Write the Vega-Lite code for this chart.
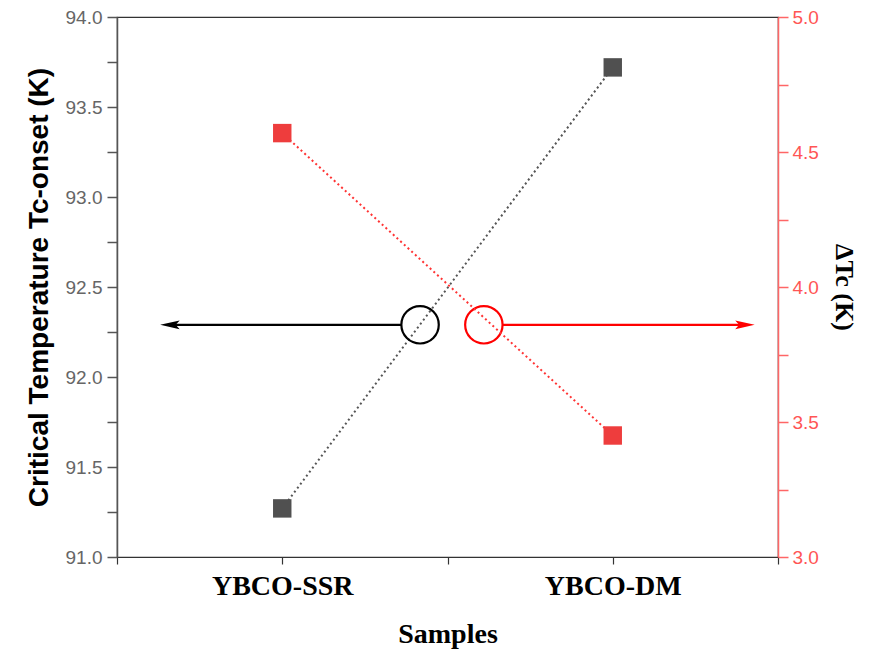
{
  "$schema": "https://vega.github.io/schema/vega-lite/v6.json",
  "width": 661,
  "height": 540,
  "autosize": {"type": "none"},
  "padding": {"left": 117, "top": 17, "right": 91, "bottom": 102},
  "background": "white",
  "config": {"view": {"stroke": "#333", "strokeWidth": 1.2}},
  "datasets": {
    "samples": [
      {"pos": 1, "sample": "YBCO-SSR", "tc": 91.27, "dtc": 4.57},
      {"pos": 2, "sample": "YBCO-DM", "tc": 93.72, "dtc": 3.45}
    ],
    "marker": [
      {"series": "Tc-onset", "cx": 1.417, "cy": 92.29, "x1": 1.36, "x2": 0.66, "head": 0.66},
      {"series": "dTc", "cx": 1.61, "cy": 92.29, "x1": 1.667, "x2": 2.40, "head": 2.40}
    ]
  },
  "layer": [
    {
      "layer": [
        {
          "data": {"name": "samples"},
          "mark": {"type": "line", "color": "#555555", "strokeWidth": 2, "strokeDash": [2, 3]},
          "encoding": {
            "x": {
              "field": "pos", "type": "quantitative",
              "scale": {"domain": [0.5, 2.5], "nice": false, "zero": false},
              "axis": {
                "values": [0.5, 1, 1.5, 2, 2.5],
                "labelExpr": "datum.value == 1 ? 'YBCO-SSR' : datum.value == 2 ? 'YBCO-DM' : ''",
                "grid": false,
                "title": "Samples",
                "titleFont": "Liberation Serif", "titleFontSize": 28, "titleFontWeight": "bold", "titleColor": "#000",
                "titlePadding": 20,
                "labelFont": "Liberation Serif", "labelFontSize": 28, "labelFontWeight": "bold", "labelColor": "#000",
                "labelPadding": 8,
                "domainColor": "#333", "domainWidth": 1.2,
                "tickColor": "#333", "tickSize": 7, "tickWidth": 1.2
              }
            },
            "y": {
              "field": "tc", "type": "quantitative",
              "scale": {"domain": [91, 94], "nice": false, "zero": false},
              "axis": {
                "orient": "left",
                "values": [91, 91.25, 91.5, 91.75, 92, 92.25, 92.5, 92.75, 93, 93.25, 93.5, 93.75, 94],
                "labelExpr": "abs(datum.value*2 - round(datum.value*2)) < 0.001 ? format(datum.value, '.1f') : ''",
                "tickSize": 10,
                "encoding": {"ticks": {"update": {"x2": {"signal": "abs(datum.value*2 - round(datum.value*2)) < 0.001 ? -10 : -5"}}}},
                "grid": false,
                "title": "Critical Temperature Tc-onset (K)",
                "titleFont": "Liberation Sans", "titleFontSize": 28, "titleFontWeight": "bold", "titleColor": "#000",
                "titlePadding": 12,
                "labelFont": "Liberation Sans", "labelFontSize": 19, "labelColor": "#666",
                "labelPadding": 5,
                "domainColor": "#555", "domainWidth": 1.5,
                "tickColor": "#555", "tickWidth": 1.5
              }
            }
          }
        },
        {
          "data": {"name": "samples"},
          "mark": {"type": "point", "shape": "square", "filled": true, "size": 340, "color": "#505050", "opacity": 1},
          "encoding": {
            "x": {"field": "pos", "type": "quantitative"},
            "y": {"field": "tc", "type": "quantitative"}
          }
        },
        {
          "data": {"name": "marker"},
          "mark": {"type": "rule", "strokeWidth": 2.2},
          "encoding": {
            "x": {"field": "x1", "type": "quantitative"},
            "x2": {"field": "x2"},
            "y": {"field": "cy", "type": "quantitative"},
            "color": {"field": "series", "type": "nominal", "scale": {"domain": ["Tc-onset", "dTc"], "range": ["#000000", "#ff0000"]}, "legend": null}
          }
        },
        {
          "data": {"name": "marker"},
          "mark": {"type": "point", "filled": false, "size": 1400, "strokeWidth": 2.2, "opacity": 1},
          "encoding": {
            "x": {"field": "cx", "type": "quantitative"},
            "y": {"field": "cy", "type": "quantitative"},
            "color": {"field": "series", "type": "nominal", "legend": null}
          }
        },
        {
          "data": {"name": "marker"},
          "mark": {"type": "point", "filled": true, "size": 380, "opacity": 1},
          "encoding": {
            "x": {"field": "head", "type": "quantitative"},
            "y": {"field": "cy", "type": "quantitative"},
            "color": {"field": "series", "type": "nominal", "legend": null},
            "shape": {"field": "series", "type": "nominal", "scale": {"domain": ["Tc-onset", "dTc"], "range": ["M -1 0 L 1 -0.45 L 0.6 0 L 1 0.45 Z", "M 1 0 L -1 -0.45 L -0.6 0 L -1 0.45 Z"]}, "legend": null}
          }
        }
      ]
    },
    {
      "layer": [
        {
          "data": {"name": "samples"},
          "mark": {"type": "line", "color": "#ff3333", "strokeWidth": 2, "strokeDash": [2, 3]},
          "encoding": {
            "x": {"field": "pos", "type": "quantitative"},
            "y": {
              "field": "dtc", "type": "quantitative",
              "scale": {"domain": [3, 5], "nice": false, "zero": false},
              "axis": {
                "orient": "right",
                "values": [3, 3.25, 3.5, 3.75, 4, 4.25, 4.5, 4.75, 5],
                "labelExpr": "abs(datum.value*2 - round(datum.value*2)) < 0.001 ? format(datum.value, '.1f') : ''",
                "tickSize": 10,
                "encoding": {"ticks": {"update": {"x2": {"signal": "abs(datum.value*2 - round(datum.value*2)) < 0.001 ? 10 : 5"}}}},
                "grid": false,
                "title": "ΔTc (K)",
                "titleFont": "Liberation Serif", "titleFontSize": 26, "titleFontWeight": "bold", "titleColor": "#000",
                "titlePadding": 12,
                "labelFont": "Liberation Sans", "labelFontSize": 19, "labelColor": "#ff5555",
                "labelPadding": 4,
                "domainColor": "#ff6666", "domainWidth": 1.5,
                "tickColor": "#ff6666", "tickWidth": 1.5
              }
            }
          }
        },
        {
          "data": {"name": "samples"},
          "mark": {"type": "point", "shape": "square", "filled": true, "size": 340, "color": "#ee3d3d", "opacity": 1},
          "encoding": {
            "x": {"field": "pos", "type": "quantitative"},
            "y": {"field": "dtc", "type": "quantitative"}
          }
        }
      ]
    }
  ],
  "resolve": {"scale": {"y": "independent"}}
}
